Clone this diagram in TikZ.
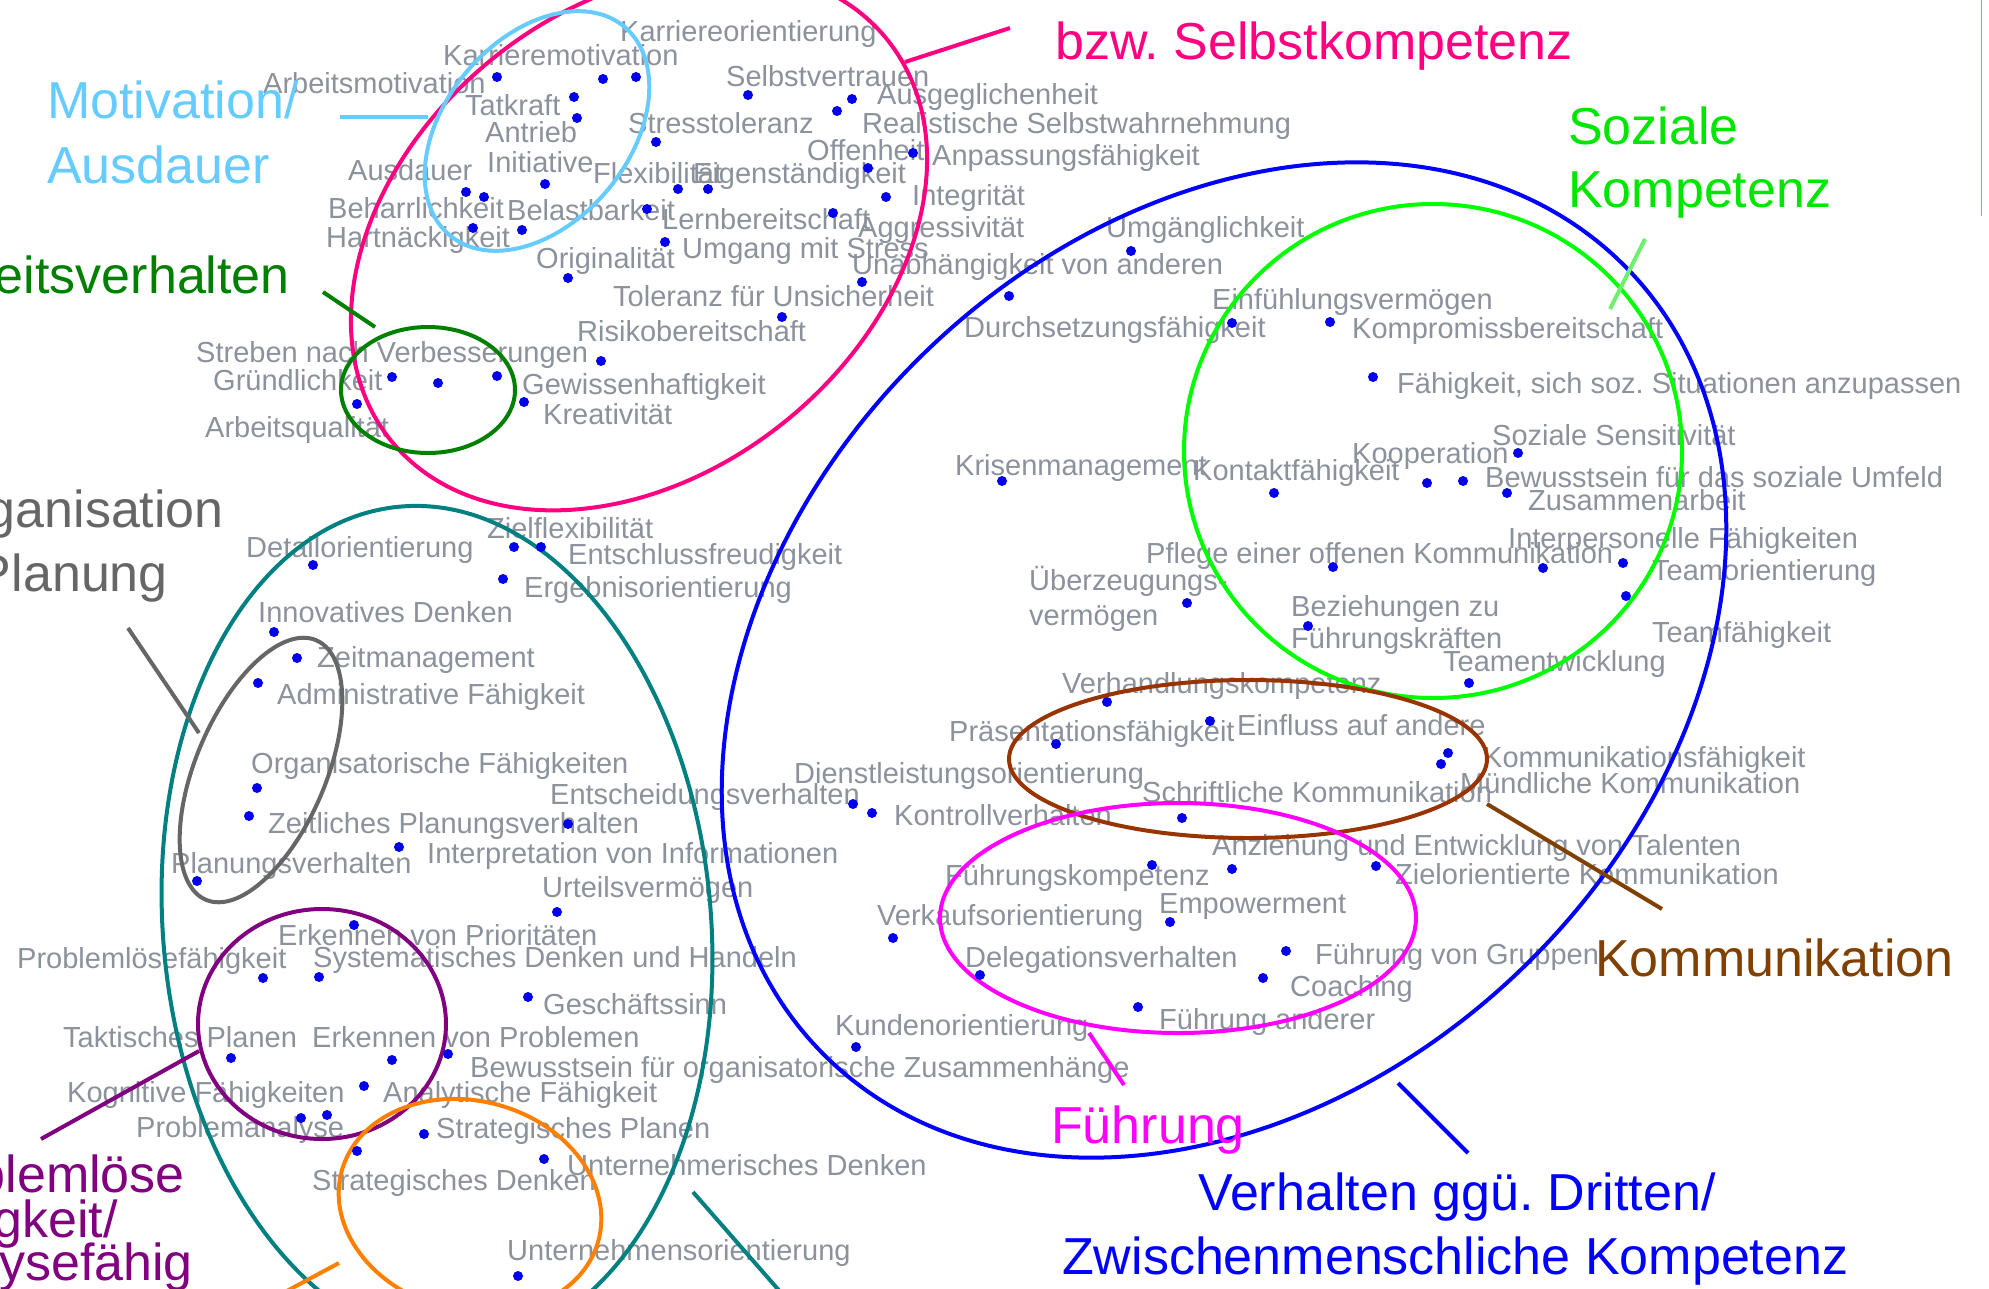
\documentclass[tikz,border=0pt]{standalone}
\usepackage{fontspec}
\setmainfont{Liberation Sans}
\frenchspacing
\definecolor{labelgray}{RGB}{140,146,156}
\definecolor{dotblue}{RGB}{0,0,235}
\definecolor{pinkc}{RGB}{255,0,128}
\definecolor{skyc}{RGB}{102,204,255}
\definecolor{dgreenc}{RGB}{0,128,0}
\definecolor{greenc}{RGB}{0,255,0}
\definecolor{greentext}{RGB}{0,230,0}
\definecolor{lgreenc}{RGB}{110,240,110}
\definecolor{grayc}{RGB}{102,102,102}
\definecolor{tealc}{RGB}{0,128,128}
\definecolor{purplec}{RGB}{128,0,128}
\definecolor{orangec}{RGB}{255,128,0}
\definecolor{bluec}{RGB}{0,0,255}
\definecolor{magentac}{RGB}{255,0,255}
\definecolor{brownc}{RGB}{153,51,0}
\definecolor{browntext}{RGB}{128,64,0}
\definecolor{edgec}{RGB}{143,170,220}
\begin{document}
\begin{tikzpicture}[x=1pt,y=-1pt,
  lbl/.style={anchor=base west, inner sep=0pt, text=labelgray, font=\fontsize{29}{33}\selectfont},
  big/.style={anchor=base west, inner sep=0pt, font=\fontsize{52}{60}\selectfont},
  bigr/.style={big, anchor=base east},
  ring/.style={line width=4pt},
  tick/.style={line width=4pt}]
\useasboundingbox (0,0) rectangle (1989,1288);
\clip (0,0) rectangle (1989,1288);
\fill[white] (0,0) rectangle (1989,1288);
\draw[edgec, line width=1pt] (1981,0) -- (1981,216);

% ---------- self competence items ----------
\node[lbl] (karrori) at (620,41) {Karriereorientierung};
\node[lbl] (karrmot) at (443,65) {Karrieremotivation};
\node[lbl] (arbmot) at (263,93) {Arbeitsmotivation};
\node[lbl] (selbstv) at (726,86) {Selbstvertrauen};
\node[lbl] (ausgegl) at (877,104) {Ausgeglichenheit};
\node[lbl] (tatkraft) at (465,115) {Tatkraft};
\node[lbl] (antrieb) at (485,142) {Antrieb};
\node[lbl] (stresstol) at (628,133) {Stresstoleranz};
\node[lbl] (realsw) at (862,133) {Realistische Selbstwahrnehmung};
\node[lbl] (offenh) at (807,160) {Offenheit};
\node[lbl] (anpass) at (932,165) {Anpassungsfähigkeit};
\node[lbl] (initiat) at (487,172) {Initiative};
\node[lbl] (ausdauer) at (348,180) {Ausdauer};
\node[lbl] (flexib) at (593,183) {Flexibilität};
\node[lbl] (eigenst) at (693,183) {Eigenständigkeit};
\node[lbl] (integr) at (912,205) {Integrität};
\node[lbl] (beharr) at (328,218) {Beharrlichkeit};
\node[lbl] (belast) at (507,220) {Belastbarkeit};
\node[lbl] (lernb) at (662,229) {Lernbereitschaft};
\node[lbl] (aggress) at (858,237) {Aggressivität};
\node[lbl] (hartn) at (326,247) {Hartnäckigkeit};
\node[lbl] (umgstress) at (682,258) {Umgang mit Stress};
\node[lbl] (original) at (536,268) {Originalität};
\node[lbl] (unabh) at (852,274) {Unabhängigkeit von anderen};
\node[lbl] (tolunsich) at (613,306) {Toleranz für Unsicherheit};
\node[lbl] (risiko) at (577,341) {Risikobereitschaft};
\node[lbl] (streben) at (196,362) {Streben nach Verbesserungen};
\node[lbl] (gruendl) at (213,390) {Gründlichkeit};
\node[lbl] (gewissen) at (522,394) {Gewissenhaftigkeit};
\node[lbl] (kreativ) at (543,424) {Kreativität};
\node[lbl] (arbqual) at (205,437) {Arbeitsqualität};

% ---------- interpersonal items ----------
\node[lbl] (umgaengl) at (1106,237) {Umgänglichkeit};
\node[lbl] (durchs) at (964,337) {Durchsetzungsfähigkeit};
\node[lbl] (einfuehl) at (1212,309) {Einfühlungsvermögen};
\node[lbl] (kompromiss) at (1352,338) {Kompromissbereitschaft};
\node[lbl] (sozsit) at (1397,393) {Fähigkeit, sich soz. Situationen anzupassen};
\node[lbl] (sozsens) at (1492,445) {Soziale Sensitivität};
\node[lbl] (koop) at (1352,463) {Kooperation};
\node[lbl] (krisen) at (955,475) {Krisenmanagement};
\node[lbl] (kontakt) at (1193,480) {Kontaktfähigkeit};
\node[lbl] (bewsoz) at (1485,487) {Bewusstsein für das soziale Umfeld};
\node[lbl] (zusarb) at (1528,510) {Zusammenarbeit};
\node[lbl] (interpers) at (1508,548) {Interpersonelle Fähigkeiten};
\node[lbl] (pflege) at (1146,563) {Pflege einer offenen Kommunikation};
\node[lbl] (teamori) at (1652,580) {Teamorientierung};
\node[lbl] (ueberz) at (1029,590) {Überzeugungs-};
\node[lbl] (ueberzb) at (1029,625) {vermögen};
\node[lbl] (bezieh) at (1291,616) {Beziehungen zu};
\node[lbl] (beziehb) at (1291,648) {Führungskräften};
\node[lbl] (teamf) at (1652,642) {Teamfähigkeit};
\node[lbl] (teamentw) at (1443,671) {Teamentwicklung};
\node[lbl] (verhandl) at (1062,693) {Verhandlungskompetenz};
\node[lbl] (einfluss) at (1237,735) {Einfluss auf andere};
\node[lbl] (praesent) at (949,741) {Präsentationsfähigkeit};
\node[lbl] (kommf) at (1483,767) {Kommunikationsfähigkeit};
\node[lbl] (dienstl) at (794,783) {Dienstleistungsorientierung};
\node[lbl] (muendl) at (1460,793) {Mündliche Kommunikation};
\node[lbl] (schriftl) at (1142,802) {Schriftliche Kommunikation};
\node[lbl] (kontrollv) at (894,825) {Kontrollverhalten};
\node[lbl] (anzieh) at (1212,855) {Anziehung und Entwicklung von Talenten};
\node[lbl] (fuehrk) at (945,885) {Führungskompetenz};
\node[lbl] (zielkomm) at (1395,884) {Zielorientierte Kommunikation};
\node[lbl] (empower) at (1159,913) {Empowerment};
\node[lbl] (verkauf) at (877,925) {Verkaufsorientierung};
\node[lbl] (delegat) at (965,967) {Delegationsverhalten};
\node[lbl] (fgruppen) at (1315,964) {Führung von Gruppen};
\node[lbl] (coaching) at (1290,996) {Coaching};
\node[lbl] (fanderer) at (1159,1029) {Führung anderer};
\node[lbl] (kunden) at (835,1035) {Kundenorientierung};

% ---------- planning and problem solving items ----------
\node[lbl] (zielflex) at (487,538) {Zielflexibilität};
\node[lbl] (detail) at (246,557) {Detailorientierung};
\node[lbl] (entschl) at (568,564) {Entschlussfreudigkeit};
\node[lbl] (ergebn) at (524,597) {Ergebnisorientierung};
\node[lbl] (innov) at (258,622) {Innovatives Denken};
\node[lbl] (zeitm) at (317,667) {Zeitmanagement};
\node[lbl] (admin) at (277,704) {Administrative Fähigkeit};
\node[lbl] (orgf) at (251,773) {Organisatorische Fähigkeiten};
\node[lbl] (entscheid) at (550,804) {Entscheidungsverhalten};
\node[lbl] (zeitpl) at (268,833) {Zeitliches Planungsverhalten};
\node[lbl] (interpr) at (427,863) {Interpretation von Informationen};
\node[lbl] (planv) at (171,873) {Planungsverhalten};
\node[lbl] (urteil) at (542,897) {Urteilsvermögen};
\node[lbl] (prior) at (278,945) {Erkennen von Prioritäten};
\node[lbl] (problf) at (17,968) {Problemlösefähigkeit};
\node[lbl] (system) at (313,967) {Systematisches Denken und Handeln};
\node[lbl] (geschaeft) at (543,1014) {Geschäftssinn};
\node[lbl] (taktisch) at (63,1047) {Taktisches Planen};
\node[lbl] (erkprob) at (312,1047) {Erkennen von Problemen};
\node[lbl] (bewusstorg) at (470,1077) {Bewusstsein für organisatorische Zusammenhänge};
\node[lbl] (kognitiv) at (67,1102) {Kognitive Fähigkeiten};
\node[lbl] (analyt) at (383,1102) {Analytische Fähigkeit};
\node[lbl] (problana) at (136,1137) {Problemanalyse};
\node[lbl] (stratpl) at (436,1138) {Strategisches Planen};
\node[lbl] (untdenk) at (567,1175) {Unternehmerisches Denken};
\node[lbl] (stratdenk) at (312,1190) {Strategisches Denken};
\node[lbl] (untori) at (507,1260) {Unternehmensorientierung};

% ---------- group outlines ----------
\draw[bluec, ring, rotate around={44:(1224,660)}] (1224,660) ellipse [x radius=562pt, y radius=429pt];
\draw[tealc, ring, rotate around={5:(437,926)}] (437,926) ellipse [x radius=274pt, y radius=421pt];
\draw[pinkc, ring, rotate around={39:(639,240)}] (639,240) ellipse [x radius=319pt, y radius=233pt];
\draw[skyc, ring, rotate around={50:(537,131)}] (537,131) ellipse [x radius=136pt, y radius=92pt];
\draw[dgreenc, ring] (428,390) ellipse [x radius=87pt, y radius=63pt];
\draw[grayc, ring, rotate around={67:(261,770)}] (261,770) ellipse [x radius=141pt, y radius=65pt];
\draw[purplec, ring] (322,1024) ellipse [x radius=124pt, y radius=115pt];
\draw[orangec, ring, rotate around={-15:(470,1206)}] (470,1206) ellipse [x radius=133pt, y radius=105pt];
\draw[greenc, ring] (1433,451) ellipse [x radius=249pt, y radius=247pt];
\draw[brownc, ring] (1248,759) ellipse [x radius=239pt, y radius=79pt];
\draw[magentac, ring] (1178,918) ellipse [x radius=238pt, y radius=115pt];

% ---------- item dots ----------
\foreach \p in {(497,77),(603,79),(636,77),(574,97),(577,118),(748,95),(852,99),(837,111),
  (656,142),(913,153),(868,168),(466,192),(484,197),(545,184),(678,189),(708,189),(886,197),
  (647,209),(833,213),(473,228),(522,230),(665,242),(568,278),(862,282),(782,317),(601,361),
  (392,377),(438,383),(497,376),(357,404),(524,402),
  (1131,251),(1009,296),(1232,323),(1330,322),(1373,377),(1518,453),(1002,481),(1274,493),
  (1427,483),(1463,481),(1507,493),(1333,567),(1543,568),(1623,563),(1626,596),(1187,603),
  (1308,626),(1469,683),(1107,702),(1210,721),(1056,744),(1448,753),(1441,764),(853,804),
  (872,813),(1182,818),(1152,865),(1232,869),(1376,866),(1170,922),(893,938),(980,975),
  (1286,951),(1263,978),(1138,1007),(856,1047),
  (514,547),(541,547),(313,565),(503,579),(274,632),(297,658),(258,683),(257,788),(249,816),
  (568,824),(399,847),(197,881),(557,912),(354,925),(263,978),(319,977),(528,997),(231,1058),
  (392,1060),(448,1054),(364,1086),(301,1118),(327,1115),(424,1134),(357,1151),(544,1159),
  (518,1276)}
  \fill[dotblue] \p circle (5pt);

% ---------- group titles ----------
\node[big, text=skyc] (tmotiv) at (47,118) {Motivation/};
\node[big, text=skyc] (tmotivb) at (47,183) {Ausdauer};
\node[big, text=pinkc] (tselbst) at (1055,59) {bzw. Selbstkompetenz};
\node[big, text=greentext] (tsozial) at (1568,144) {Soziale};
\node[big, text=greentext] (tsozialb) at (1568,207) {Kompetenz};
\node[bigr, text=dgreenc] (tarbeit) at (290,293) {Arbeitsverhalten};
\node[bigr, text=grayc] (torg) at (224,527) {Organisation};
\node[bigr, text=grayc] (torgb) at (168,591) {Planung};
\node[bigr, text=purplec] (tprob) at (185,1192) {Problemlöse};
\node[bigr, text=purplec] (tprobb) at (118,1237) {fähigkeit/};
\node[bigr, text=purplec] (tprobc) at (193,1280) {Analysefähig};
\node[big, text=magentac] (tfuehr) at (1051,1143) {Führung};
\node[big, text=browntext] (tkomm) at (1595,976) {Kommunikation};
\node[big, text=bluec] (tverh) at (1198,1210) {Verhalten ggü. Dritten/};
\node[big, text=bluec] (tverhb) at (1062,1274) {Zwischenmenschliche Kompetenz};

% ---------- leader strokes ----------
\coordinate (skyA) at (340,117);   \coordinate (skyB) at (428,117);
\coordinate (pinkA) at (905,62);   \coordinate (pinkB) at (1010,28);
\coordinate (dgA) at (323,292);    \coordinate (dgB) at (375,327);
\coordinate (lgA) at (1645,239);   \coordinate (lgB) at (1610,309);
\coordinate (grA) at (128,628);    \coordinate (grB) at (199,733);
\coordinate (puA) at (199,1051);   \coordinate (puB) at (41,1139);
\coordinate (orA) at (339,1263);   \coordinate (orB) at (270,1300);
\coordinate (teA) at (693,1192);   \coordinate (teB) at (790,1303);
\coordinate (maA) at (1089,1033);  \coordinate (maB) at (1124,1085);
\coordinate (blA) at (1398,1083);  \coordinate (blB) at (1468,1153);
\coordinate (brA) at (1487,804);   \coordinate (brB) at (1662,909);
\draw[skyc, tick] (skyA) -- (skyB);
\draw[pinkc, tick] (pinkA) -- (pinkB);
\draw[dgreenc, tick] (dgA) -- (dgB);
\draw[lgreenc, tick] (lgA) -- (lgB);
\draw[grayc, tick] (grA) -- (grB);
\draw[purplec, tick] (puA) -- (puB);
\draw[orangec, tick] (orA) -- (orB);
\draw[tealc, tick] (teA) -- (teB);
\draw[magentac, tick] (maA) -- (maB);
\draw[bluec, tick] (blA) -- (blB);
\draw[browntext, tick] (brA) -- (brB);
\end{tikzpicture}
\end{document}
